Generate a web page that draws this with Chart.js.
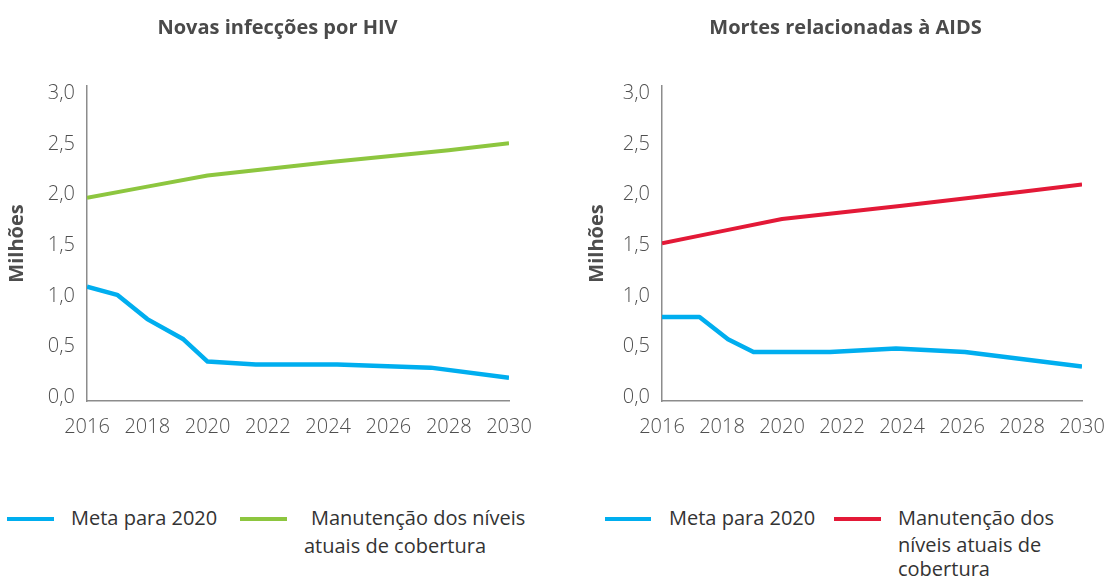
<!DOCTYPE html>
<html>
<head>
<meta charset="utf-8">
<script src="https://cdn.jsdelivr.net/npm/chart.js@4/dist/chart.umd.min.js"></script>
<style>
  html, body { margin: 0; padding: 0; background: #fff; }
  body { width: 1111px; height: 579px; position: relative; overflow: hidden; font-family: "Open Sans", Lato, sans-serif; }
  .panel { position: absolute; top: 0; }
  .legend { position: absolute; color: #333; font-size: 20px; line-height: 26px; }
  .swatch { position: absolute; height: 4px; }
  .txt { position: absolute; white-space: nowrap; }
</style>
</head>
<body>
<div class="panel" style="left:0px"><canvas id="left" width="555" height="453"></canvas></div>
<div class="panel" style="left:580px"><canvas id="right" width="531" height="453"></canvas></div>

<div class="legend">
  <div class="swatch" style="left:7px;top:517px;width:47px;background:#00AEEF"></div>
  <div class="txt" style="left:71px;top:505px">Meta para 2020</div>
  <div class="swatch" style="left:240px;top:517px;width:47px;background:#8DC63F"></div>
  <div class="txt" style="left:311px;top:505px">Manutenção dos níveis</div>
  <div class="txt" style="left:304px;top:533px">atuais de cobertura</div>

  <div class="swatch" style="left:605px;top:517px;width:46px;background:#00AEEF"></div>
  <div class="txt" style="left:669px;top:505px">Meta para 2020</div>
  <div class="swatch" style="left:834px;top:517px;width:47px;background:#E31937"></div>
  <div class="txt" style="left:898px;top:505px">Manutenção dos</div>
  <div class="txt" style="left:898px;top:532px">níveis atuais de</div>
  <div class="txt" style="left:898px;top:556px">cobertura</div>
</div>

<script>
// tick labels
const xTicks = [2016, 2018, 2020, 2022, 2024, 2026, 2028, 2030];
const yTicks = [0, 0.5, 1, 1.5, 2, 2.5, 3];

// Novas infecções por HIV (milhões)
const hivMetaYears = [2016, 2017, 2018, 2019.2, 2020, 2021.6, 2024.3, 2027.4, 2030];
const hivMeta      = [1.09, 1.01, 0.77, 0.57, 0.35, 0.32, 0.32, 0.29, 0.19];
const hivManutYears = [2016, 2018, 2020, 2024, 2028, 2030];
const hivManut      = [1.97, 2.08, 2.19, 2.32, 2.44, 2.51];

// Mortes relacionadas à AIDS (milhões)
const aidsMetaYears = [2016, 2017.25, 2018.2, 2019.05, 2021.6, 2023.8, 2026.1, 2030];
const aidsMeta      = [0.79, 0.79, 0.57, 0.445, 0.445, 0.48, 0.445, 0.30];
const aidsManutYears = [2016, 2018, 2020, 2024, 2028, 2030];
const aidsManut      = [1.52, 1.64, 1.76, 1.89, 2.03, 2.10];

const BLUE = '#00AEEF', GREEN = '#8DC63F', RED = '#E31937';
const FONT = '"Open Sans", Lato, sans-serif';

function pts(xs, ys) { return xs.map((x, i) => ({ x: x, y: ys[i] })); }

function makeChart(id, title, meta, manut, manutColor, yWidth, rightGap) {
  return new Chart(document.getElementById(id), {
    type: 'line',
    data: {
      datasets: [
        { label: 'Meta para 2020', data: meta, borderColor: BLUE, borderWidth: 4.5,
          pointRadius: 0, tension: 0, borderJoinStyle: 'round', borderCapStyle: 'butt' },
        { label: 'Manutenção dos níveis atuais de cobertura', data: manut, borderColor: manutColor,
          borderWidth: 4, pointRadius: 0, tension: 0, borderJoinStyle: 'round' }
      ]
    },
    options: {
      responsive: false,
      animation: false,
      layout: { padding: 0 },
      plugins: {
        legend: { display: false },
        tooltip: { enabled: false },
        title: {
          display: true, text: title, color: '#4a4a4a',
          font: { family: FONT, size: 20, weight: 'bold' },
          padding: { top: 16, bottom: 46 }
        }
      },
      scales: {
        x: {
          type: 'linear', min: 2016, max: 2030,
          grid: { display: false, drawTicks: false },
          border: { display: true, color: '#8c8c8c', width: 1.5 },
          afterBuildTicks: s => { s.ticks = xTicks.map(v => ({ value: v })); },
          // labels may hang over the side boxes, don't let them shrink the plot
          afterFit: s => { s.paddingLeft = 0; s.paddingRight = 0; },
          ticks: { color: '#4f4f4f', padding: 14, maxRotation: 0, autoSkip: false,
            font: { family: FONT, size: 20, weight: 300 }, callback: v => String(v) }
        },
        y: {
          min: -0.04, max: 3.075,
          grid: { display: false, drawTicks: false },
          border: { display: true, color: '#8c8c8c', width: 1.5 },
          afterBuildTicks: s => { s.ticks = yTicks.map(v => ({ value: v })); },
          afterFit: s => { s.width = yWidth; },
          ticks: { color: '#4f4f4f', padding: 12, font: { family: FONT, size: 20, weight: 300 },
            callback: v => v.toFixed(1).replace('.', ',') },
          title: { display: true, text: 'Milhões', color: '#4d4d4d',
            font: { family: FONT, size: 20, weight: 'bold' }, padding: { top: 5, bottom: 0 } }
        },
        // empty right-hand box, only to leave room after 2030 while the title stays centred on the canvas
        gap: {
          position: 'right', min: 0, max: 1,
          grid: { display: false, drawTicks: false },
          border: { display: false },
          ticks: { display: false },
          afterFit: s => { s.width = rightGap; }
        }
      }
    }
  });
}

makeChart('left', 'Novas infecções por HIV', pts(hivMetaYears, hivMeta), pts(hivManutYears, hivManut), GREEN, 87, 46);
makeChart('right', 'Mortes relacionadas à AIDS', pts(aidsMetaYears, aidsMeta), pts(aidsManutYears, aidsManut), RED, 82, 29);
</script>
</body>
</html>
